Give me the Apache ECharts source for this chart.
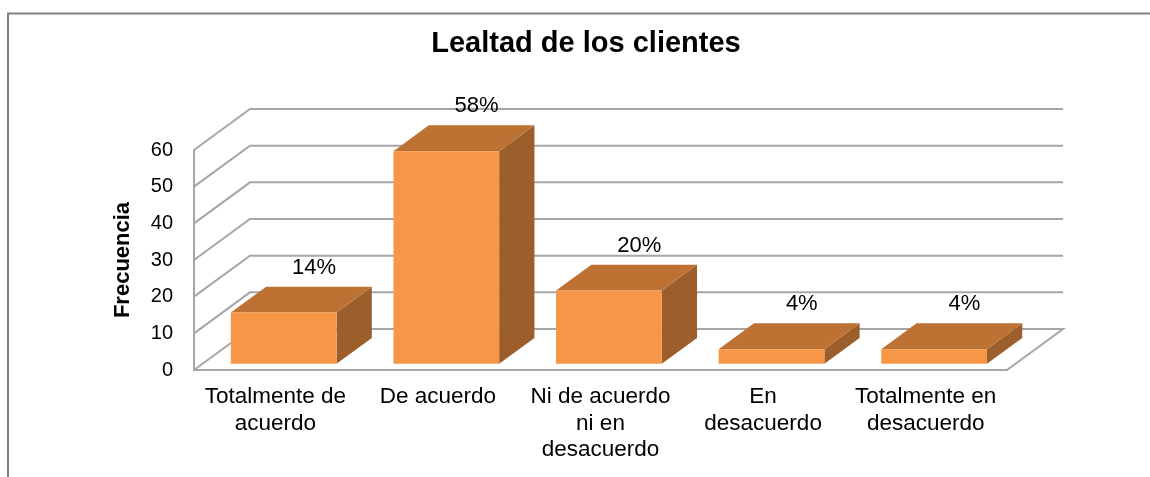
<!DOCTYPE html>
<html>
<head>
<meta charset="utf-8">
<script src="https://cdn.jsdelivr.net/npm/echarts@6/dist/echarts.min.js"></script>
<style>
  html, body { margin: 0; padding: 0; background: #fff; }
  #chart { width: 1150px; height: 477px; }
</style>
</head>
<body>
<div id="chart"></div>
<script>
const categories = ['Totalmente de\nacuerdo', 'De acuerdo', 'Ni de acuerdo\nni en\ndesacuerdo', 'En\ndesacuerdo', 'Totalmente en\ndesacuerdo']
const frecuencia = [14, 58, 20, 4, 4]
const porcentaje = ['14%', '58%', '20%', '4%', '4%']
const yTicks = [0, 10, 20, 30, 40, 50, 60]

// depth of the fake 3d box (pixels)
const DX = 56
const DY = -41
const F0 = 0.15 // bar front, as fraction of depth
const F1 = 0.78 // bar back
const GRID_COLOR = '#a6a6a6'

const chart = echarts.init(document.getElementById('chart'))

const option = {
  animation: false,
  title: {
    text: 'Lealtad de los clientes',
    left: 581,
    top: 24,
    textAlign: 'center',
    textStyle: { fontFamily: 'Liberation Sans', fontSize: 29, fontWeight: 'bold', color: '#000' },
  },
  graphic: [
    {
      type: 'polyline',
      shape: { points: [[8, 480], [8, 13.5], [1152, 13.5]] },
      style: { stroke: '#808080', lineWidth: 2, fill: null },
    },
  ],
  grid: { left: 194, right: 143, top: 150, bottom: 107 },
  xAxis: {
    type: 'category',
    data: categories,
    axisLine: { show: true, lineStyle: { color: GRID_COLOR, width: 2 } },
    axisTick: { show: false },
    axisLabel: {
      interval: 0,
      margin: 14,
      lineHeight: 26.5,
      fontFamily: 'Liberation Sans',
      fontSize: 22.5,
      color: '#000',
    },
  },
  yAxis: {
    type: 'value',
    min: 0,
    max: 60,
    interval: 10,
    name: 'Frecuencia',
    nameLocation: 'middle',
    nameGap: 60,
    nameTextStyle: { fontFamily: 'Liberation Sans', fontSize: 22, fontWeight: 'bold', color: '#000' },
    axisLine: { show: true, lineStyle: { color: GRID_COLOR, width: 2 } },
    axisTick: { show: false },
    splitLine: { show: false },
    axisLabel: { margin: 21, fontFamily: 'Liberation Sans', fontSize: 20, color: '#000' },
  },
  series: [
    {
      // walls: back gridlines + slanted side lines + floor
      type: 'custom',
      silent: true,
      z: 1,
      data: yTicks.map((t) => [0, t]),
      renderItem(params, api) {
        const cs = params.coordSys
        const y = api.coord([0, api.value(1)])[1]
        const x0 = cs.x
        const x1 = cs.x + cs.width
        const pts = [[x0, y], [x0 + DX, y + DY], [x1 + DX, y + DY]]
        if (api.value(1) === 0) pts.push([x1, y])
        return {
          type: 'polyline',
          shape: { points: pts },
          style: { stroke: GRID_COLOR, lineWidth: 2, fill: null },
        }
      },
    },
    {
      type: 'custom',
      z: 3,
      data: frecuencia.map((v, i) => [i, v, porcentaje[i]]),
      renderItem(params, api) {
        const i = api.value(0)
        const top = api.coord([i, api.value(1)])
        const base = api.coord([i, 0])
        const w = api.size([1, 0])[0] * 0.65
        const xl = top[0] - w / 2
        const xr = top[0] + w / 2
        const yt = top[1]
        const yb = base[1]
        const p = (x, y, f) => [x + f * DX, y + f * DY]
        return {
          type: 'group',
          children: [
            {
              type: 'polygon',
              shape: { points: [p(xr, yt, F0), p(xr, yt, F1), p(xr, yb, F1), p(xr, yb, F0)] },
              style: { fill: '#9c5f2c' },
            },
            {
              type: 'polygon',
              shape: { points: [p(xl, yt, F0), p(xr, yt, F0), p(xr, yt, F1), p(xl, yt, F1)] },
              style: { fill: '#bd7234' },
            },
            {
              type: 'polygon',
              shape: { points: [p(xl, yt, F0), p(xr, yt, F0), p(xr, yb, F0), p(xl, yb, F0)] },
              style: { fill: '#f79646' },
            },
            {
              type: 'text',
              style: {
                text: api.value(2),
                x: top[0] + F1 * DX - 5,
                y: yt + F1 * DY - 19,
                align: 'center',
                verticalAlign: 'middle',
                font: '22px "Liberation Sans"',
                fill: '#000',
              },
            },
          ],
        }
      },
    },
  ],
}

chart.setOption(option)
</script>
</body>
</html>
